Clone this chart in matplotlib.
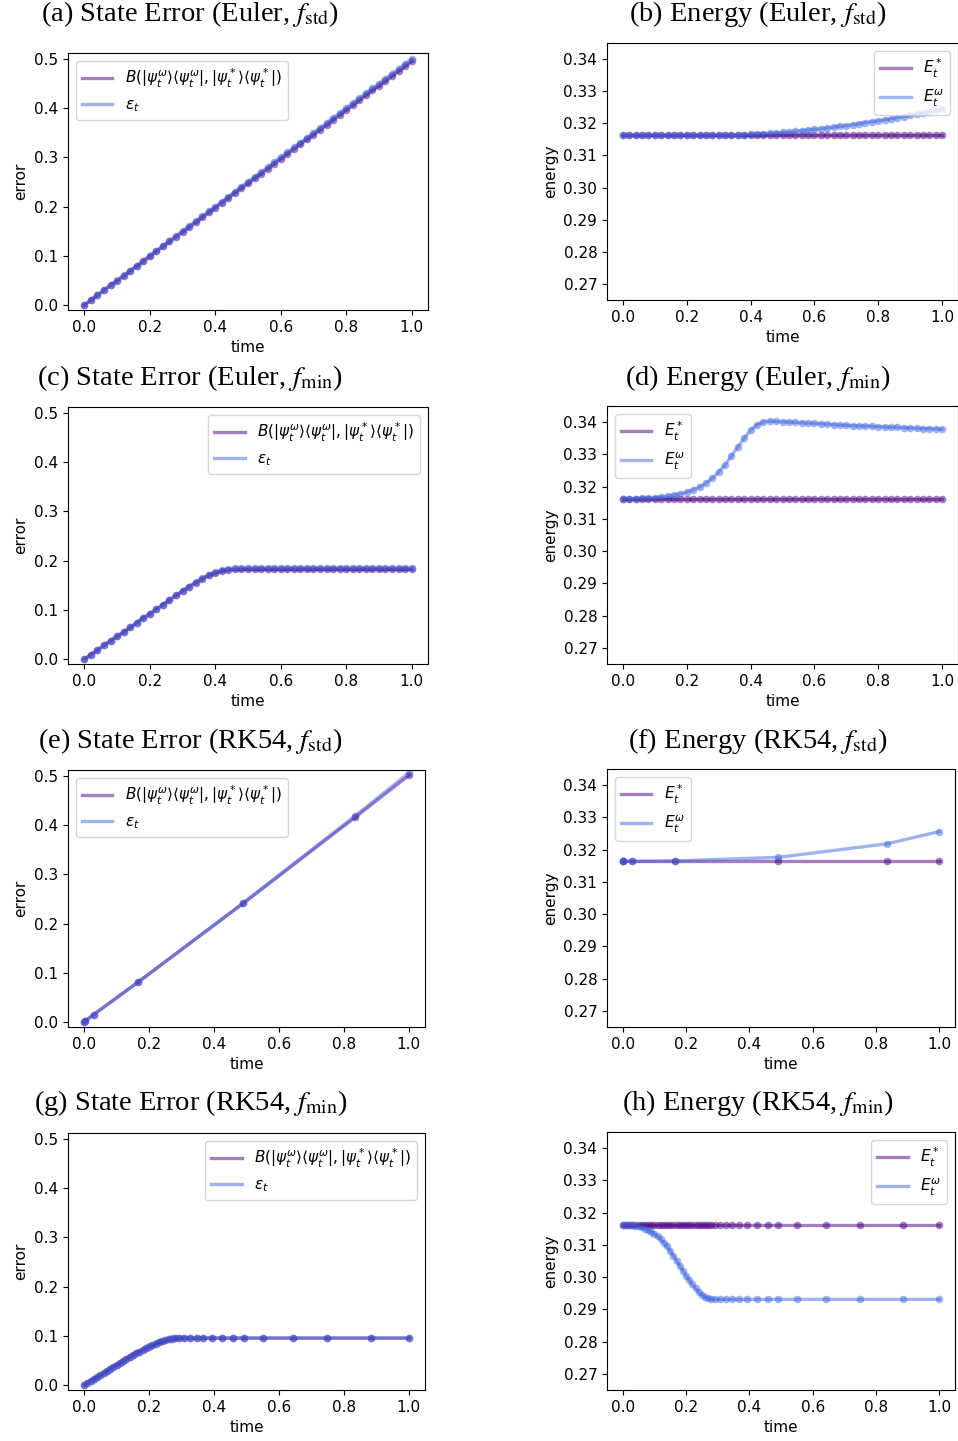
import numpy as np
import matplotlib
matplotlib.use("Agg")
import matplotlib.pyplot as plt

plt.rcParams["font.size"] = 11

# ---- data ----
# Euler time grid (shared by panels a-d)
t_euler = [0.00, 0.02, 0.04, 0.06, 0.08, 0.10, 0.12, 0.14, 0.16, 0.18,
           0.20, 0.22, 0.24, 0.26, 0.28, 0.30, 0.32, 0.34, 0.36, 0.38,
           0.40, 0.42, 0.44, 0.46, 0.48, 0.50, 0.52, 0.54, 0.56, 0.58,
           0.60, 0.62, 0.64, 0.66, 0.68, 0.70, 0.72, 0.74, 0.76, 0.78,
           0.80, 0.82, 0.84, 0.86, 0.88, 0.90, 0.92, 0.94, 0.96, 0.98, 1.00]

# (a) state error, Euler, f_std
err_a_B = [0.000, 0.010, 0.020, 0.030, 0.040, 0.049, 0.059, 0.069, 0.079, 0.089,
           0.099, 0.109, 0.119, 0.129, 0.139, 0.148, 0.158, 0.168, 0.178, 0.188,
           0.198, 0.208, 0.218, 0.228, 0.238, 0.247, 0.257, 0.267, 0.277, 0.287,
           0.297, 0.307, 0.317, 0.327, 0.337, 0.346, 0.356, 0.366, 0.376, 0.386,
           0.396, 0.406, 0.416, 0.426, 0.436, 0.445, 0.455, 0.465, 0.475, 0.485, 0.495]
err_a_eps = [0.000, 0.010, 0.020, 0.030, 0.040, 0.050, 0.060, 0.070, 0.080, 0.090,
             0.100, 0.110, 0.120, 0.130, 0.140, 0.150, 0.160, 0.170, 0.180, 0.190,
             0.200, 0.210, 0.220, 0.230, 0.240, 0.250, 0.260, 0.270, 0.280, 0.290,
             0.300, 0.310, 0.320, 0.330, 0.340, 0.350, 0.360, 0.370, 0.380, 0.390,
             0.400, 0.410, 0.420, 0.430, 0.440, 0.450, 0.460, 0.470, 0.480, 0.490, 0.500]

# (b) energy, Euler, f_std
en_b_star = [0.3163] * 51
en_b_omega = [0.3163, 0.3163, 0.3163, 0.3163, 0.3163, 0.3163, 0.3163, 0.3163, 0.3163, 0.3163,
              0.3163, 0.3163, 0.3163, 0.3163, 0.3163, 0.3163, 0.3163, 0.3164, 0.3164, 0.3165,
              0.3166, 0.3167, 0.3168, 0.3169, 0.3170, 0.3172, 0.3173, 0.3175, 0.3177, 0.3179,
              0.3181, 0.3183, 0.3186, 0.3188, 0.3191, 0.3193, 0.3196, 0.3199, 0.3202, 0.3205,
              0.3208, 0.3211, 0.3214, 0.3218, 0.3221, 0.3225, 0.3229, 0.3232, 0.3236, 0.3240, 0.3244]

# (c) state error, Euler, f_min
err_c_B = [0.000, 0.009, 0.018, 0.028, 0.037, 0.046, 0.055, 0.064, 0.074, 0.083,
           0.092, 0.101, 0.110, 0.120, 0.129, 0.138, 0.147, 0.155, 0.163, 0.170,
           0.175, 0.179, 0.181, 0.182, 0.182, 0.182, 0.182, 0.182, 0.182, 0.182,
           0.182, 0.182, 0.182, 0.182, 0.182, 0.182, 0.182, 0.182, 0.182, 0.182,
           0.182, 0.182, 0.182, 0.182, 0.182, 0.182, 0.182, 0.182, 0.182, 0.182, 0.182]
err_c_eps = [0.000, 0.009, 0.018, 0.028, 0.037, 0.046, 0.055, 0.064, 0.074, 0.083,
             0.092, 0.101, 0.110, 0.120, 0.129, 0.138, 0.147, 0.156, 0.164, 0.171,
             0.177, 0.181, 0.183, 0.184, 0.1845, 0.185, 0.185, 0.185, 0.185, 0.185,
             0.185, 0.185, 0.185, 0.185, 0.185, 0.185, 0.185, 0.185, 0.185, 0.185,
             0.185, 0.185, 0.185, 0.185, 0.185, 0.185, 0.185, 0.185, 0.185, 0.185, 0.185]

# (d) energy, Euler, f_min
en_d_star = [0.3163] * 51
en_d_omega = [0.3163, 0.3163, 0.3163, 0.3164, 0.3165, 0.3166, 0.3168, 0.3171, 0.3174, 0.3178,
              0.3183, 0.3190, 0.3199, 0.3211, 0.3226, 0.3245, 0.3268, 0.3295, 0.3323, 0.3350,
              0.3375, 0.3392, 0.3401, 0.3403, 0.3402, 0.3401, 0.3400, 0.3399, 0.3398, 0.3397,
              0.3396, 0.3395, 0.3394, 0.3392, 0.3391, 0.3390, 0.3389, 0.3388, 0.3388, 0.3387,
              0.3386, 0.3385, 0.3384, 0.3384, 0.3383, 0.3382, 0.3381, 0.3380, 0.3380, 0.3379, 0.3378]

# (e)/(f) RK54, f_std: adaptive steps
t_rk_std = [0.0, 0.0015, 0.029, 0.166, 0.490, 0.835, 1.0]
err_e_B = [0.000, 0.001, 0.015, 0.081, 0.241, 0.416, 0.501]
err_e_eps = [0.000, 0.001, 0.015, 0.081, 0.242, 0.419, 0.506]
en_f_star = [0.3164, 0.3164, 0.3164, 0.3164, 0.3164, 0.3164, 0.3164]
en_f_omega = [0.3164, 0.3164, 0.3164, 0.3165, 0.3176, 0.3218, 0.3256]

# (g)/(h) RK54, f_min: dense steps early, sparse later
t_rk_min = [0.00, 0.01, 0.02, 0.03, 0.04, 0.05, 0.06, 0.07, 0.08, 0.09,
            0.10, 0.11, 0.12, 0.13, 0.14, 0.15, 0.16, 0.17, 0.18, 0.19,
            0.20, 0.21, 0.22, 0.23, 0.24, 0.25, 0.26, 0.27, 0.28,
            0.291, 0.307, 0.326, 0.346, 0.366, 0.393, 0.425, 0.459, 0.491,
            0.552, 0.642, 0.749, 0.885, 1.0]
err_g_B = [0.000, 0.004, 0.008, 0.012, 0.016, 0.020, 0.024, 0.029, 0.033, 0.037,
           0.041, 0.045, 0.049, 0.053, 0.057, 0.061, 0.065, 0.068, 0.072, 0.075,
           0.078, 0.081, 0.084, 0.087, 0.089, 0.091, 0.093, 0.094, 0.0945,
           0.095, 0.095, 0.095, 0.095, 0.095, 0.095, 0.095, 0.095, 0.095,
           0.095, 0.095, 0.095, 0.095, 0.095]
err_g_eps = [0.000, 0.004, 0.008, 0.012, 0.016, 0.020, 0.024, 0.029, 0.033, 0.037,
             0.041, 0.045, 0.049, 0.053, 0.057, 0.061, 0.065, 0.068, 0.072, 0.076,
             0.079, 0.082, 0.085, 0.088, 0.090, 0.092, 0.094, 0.095, 0.0955,
             0.0958, 0.0958, 0.0958, 0.0958, 0.0958, 0.0958, 0.0958, 0.0958, 0.0958,
             0.0958, 0.0958, 0.0958, 0.0958, 0.0958]
en_h_star = [0.3163] * 43
en_h_omega = [0.3163, 0.3163, 0.3162, 0.3161, 0.3159, 0.3157, 0.3154, 0.3150, 0.3146, 0.3141,
              0.3134, 0.3126, 0.3117, 0.3107, 0.3095, 0.3081, 0.3066, 0.3051, 0.3035, 0.3020,
              0.3005, 0.2991, 0.2978, 0.2965, 0.2954, 0.2945, 0.2938, 0.2934, 0.2932,
              0.2931, 0.2931, 0.2931, 0.2931, 0.2931, 0.2931, 0.2931, 0.2931, 0.2931,
              0.2931, 0.2931, 0.2931, 0.2931, 0.2931]

titles = [r"(a) State Error (Euler, $f_{\rm std}$)", r"(b) Energy (Euler, $f_{\rm std}$)",
          r"(c) State Error (Euler, $f_{\rm min}$)", r"(d) Energy (Euler, $f_{\rm min}$)",
          r"(e) State Error (RK54, $f_{\rm std}$)", r"(f) Energy (RK54, $f_{\rm std}$)",
          r"(g) State Error (RK54, $f_{\rm min}$)", r"(h) Energy (RK54, $f_{\rm min}$)"]

lab_B = r"$B(|\psi_t^\omega\rangle\langle\psi_t^\omega|, |\psi_t^*\rangle\langle\psi_t^*|)$"
lab_eps = r"$\varepsilon_t$"
lab_Es = r"$E_t^*$"
lab_Ew = r"$E_t^\omega$"

W, H = 958, 1441
fig = plt.figure(figsize=(W / 100, H / 100), dpi=100)

def box(l, t, r, b):
    return [l / W, 1 - b / H, (r - l) / W, (b - t) / H]

def panel(rect, t, y1, y2, lab1, lab2, kind, loc):
    ax = fig.add_axes(box(*rect))
    ax.plot(t, y1, color="indigo", alpha=0.5, lw=2.4, label=lab1)
    ax.scatter(t, y1, color="indigo", alpha=0.5, s=30, lw=0)
    ax.plot(t, y2, color="royalblue", alpha=0.5, lw=2.4, label=lab2)
    ax.scatter(t, y2, color="royalblue", alpha=0.5, s=30, lw=0)
    ax.set_xlabel("time")
    if kind == "error":
        ax.set_ylim(-0.0102, 0.512)
        ax.set_ylabel("error")
    else:
        ax.set_ylim(0.265, 0.345)
        ax.set_yticks([0.27, 0.28, 0.29, 0.30, 0.31, 0.32, 0.33, 0.34])
        ax.set_ylabel("energy")
    ax.legend(loc=loc)
    return ax

panel((68, 53, 428, 310), t_euler, err_a_B, err_a_eps, lab_B, lab_eps, "error", "upper left")
panel((607, 43, 958, 300), t_euler, en_b_star, en_b_omega, lab_Es, lab_Ew, "energy", "upper right")
panel((68, 407, 428, 664), t_euler, err_c_B, err_c_eps, lab_B, lab_eps, "error", "upper right")
panel((607, 406, 958, 664), t_euler, en_d_star, en_d_omega, lab_Es, lab_Ew, "energy", "upper left")
panel((68, 770, 425, 1027), t_rk_std, err_e_B, err_e_eps, lab_B, lab_eps, "error", "upper left")
panel((607, 769, 955, 1027), t_rk_std, en_f_star, en_f_omega, lab_Es, lab_Ew, "energy", "upper left")
panel((68, 1133, 425, 1390), t_rk_min, err_g_B, err_g_eps, lab_B, lab_eps, "error", "upper right")
panel((607, 1132, 955, 1390), t_rk_min, en_h_star, en_h_omega, lab_Es, lab_Ew, "energy", "upper right")

title_pos = [(190, 14), (758, 14), (190, 378), (758, 378),
             (190, 741), (758, 741), (191, 1103), (758, 1103)]
for (x, y), s in zip(title_pos, titles):
    fig.text(x / W, 1 - y / H, s, ha="center", va="center", fontsize=20.5,
             family="Liberation Serif", math_fontfamily="stix")

fig.savefig("out.png", dpi=100)
